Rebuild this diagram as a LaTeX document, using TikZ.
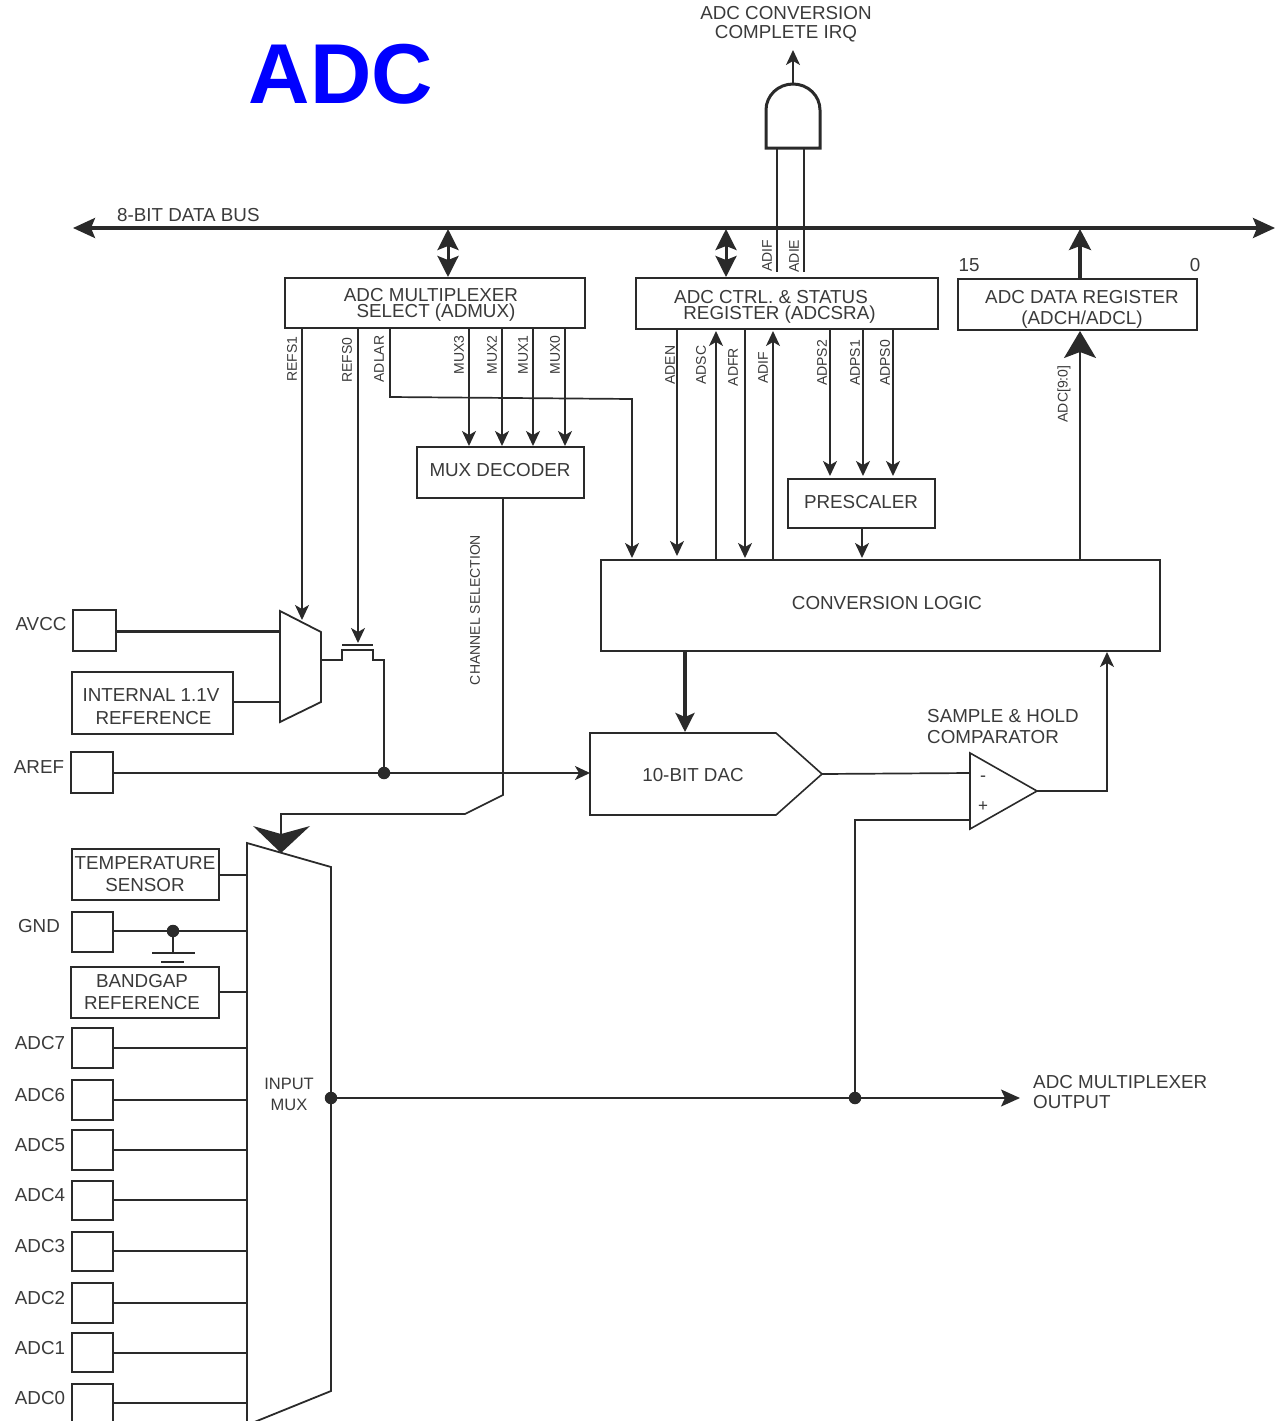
\documentclass[tikz,border=0pt]{standalone}
\usepackage{fontspec}
\setmainfont{Liberation Sans}
\usetikzlibrary{arrows.meta}
\definecolor{ink}{HTML}{2A2A2A}
\definecolor{txt}{HTML}{3A3A3A}
\tikzset{
  ln/.style={draw=ink,line width=1.7pt,line join=miter},
  heavy/.style={draw=ink,line width=3.2pt},
  boxs/.style={draw=ink,line width=1.6pt,inner sep=0pt,outer sep=0pt,fill=white},
  tip/.style={-{Stealth[length=15pt,width=14pt,inset=4pt]}},
  bigtip/.style={-{Stealth[length=27pt,width=32pt,inset=6pt]}},
  dbl/.style={{Stealth[length=21pt,width=21pt,inset=4pt]}-{Stealth[length=21pt,width=21pt,inset=4pt]}},
  lab/.style={text=txt,inner sep=0pt,align=center,font=\fontsize{18.8}{21}\selectfont},
  vlab/.style={text=txt,inner sep=0pt,rotate=90,font=\fontsize{14}{16}\selectfont},
  dot/.style={circle,fill=ink,inner sep=0pt,minimum size=12.5pt}
}
\newcommand\bx[5]{\node[boxs,minimum width={#4-#2},minimum height={#5-#3}] (#1) at ({(#2+#4)/2},{(#3+#5)/2}) {};}
\begin{document}
\begin{tikzpicture}[x=1pt,y=-1pt]
\useasboundingbox (0,0) rectangle (1277,1421);
\clip (0,0) rectangle (1277,1421);
% title
\node[text=blue,inner sep=0pt,font=\fontsize{85}{85}\selectfont\bfseries] (title) at (341,74) {ADC};
\node[lab] (irq) at (786,24) {ADC CONVERSION\\[-2.5pt]COMPLETE IRQ};
% data bus
\coordinate (busL) at (73,228);
\coordinate (busR) at (1275,228);
\draw[heavy,{Stealth[length=22pt,width=20pt,inset=4pt]}-{Stealth[length=22pt,width=20pt,inset=4pt]}] (busL) -- (busR);
\node[lab,anchor=west] (buslab) at (117,215) {8-BIT DATA BUS};
% registers
\bx{admux}{285}{278}{585}{328}
\bx{adcsra}{636}{278}{938}{329}
\bx{adcdata}{958}{279}{1197}{330}
\node[lab] at (431,305) {ADC MULTIPLEXER\\[-5pt]\hspace*{10pt}SELECT (ADMUX)};
\node[lab] at (771,307) {ADC CTRL. \& STATUS\\[-5pt]\hspace*{17pt}REGISTER (ADCSRA)};
\node[lab] at (1082,309) {ADC DATA REGISTER\\[0pt](ADCH/ADCL)};
\node[lab] (n15) at (969,265) {15};
\node[lab] (n0) at (1195,265) {0};
\draw[ln,dbl,line width=3pt] (448,229) -- (448,277);
\draw[ln,dbl,line width=3pt] (726,229) -- (726,277);
\draw[heavy,-{Stealth[length=21pt,width=22pt,inset=4pt]}] (1080,278) -- (1080,229);
% AND gate
\draw[ln,line width=3pt] (766,148) -- (766,110) arc[start angle=180,end angle=0,x radius=27,y radius=-26] -- (820,148) -- cycle;
\coordinate (andTop) at (793,84);
\coordinate (irqIn) at (793,50);
\draw[ln,tip] (andTop) -- (irqIn);
\draw[ln] (777,148) -- (777,272);
\draw[ln] (804,148) -- (804,272);
\node[vlab] at (767,256) {ADIF};
\node[vlab] at (794,256) {ADIE};
% MUX decoder
\bx{dec}{417}{447}{584}{498}
\node[lab] at (500,470) {MUX DECODER};
\foreach \x/\t in {469/MUX3,502/MUX2,533/MUX1,565/MUX0}{
  \draw[ln,tip] (\x,329) -- (\x,446);
  \node[vlab] at ({\x-10},355) {\t};
}
\node[vlab] at (292,359) {REFS1};
\node[vlab] at (347,360) {REFS0};
\node[vlab] at (379,359) {ADLAR};
% conversion logic
\bx{conv}{601}{560}{1160}{651}
\node[lab] at (887,603) {CONVERSION LOGIC};
\bx{pre}{788}{479}{935}{528}
\node[lab] at (861,502) {PRESCALER};
\draw[ln,tip] (pre.south -| 862,0) -- (862,558);
\draw[ln,tip] (390,329) -- (390,397) -- (632,399) -- (632,558);
\draw[ln,tip] (677,329) -- (677,556);
\draw[ln,tip] (716,559) -- (716,331);
\draw[ln,tip] (745,329) -- (745,558);
\draw[ln,tip] (773,559) -- (773,331);
\foreach \x/\t in {830/ADPS2,863/ADPS1,893/ADPS0}{
  \draw[ln,tip] (\x,328) -- (\x,476);
  \node[vlab] at ({\x-8},363) {\t};
}
\node[vlab] at (670,365) {ADEN};
\node[vlab] at (701,365) {ADSC};
\node[vlab] at (733,367) {ADFR};
\node[vlab] at (763,368) {ADIF};
\node[vlab] at (1064,394) {ADC[9:0]};
\draw[ln,bigtip] (1080,560) -- (1080,331);
% reference mux
\draw[boxs,line width=1.8pt] (280,611) -- (321,632) -- (321,702) -- (280,722) -- cycle;
\coordinate (muxA) at (280,631);
\coordinate (muxB) at (280,702);
\bx{avcc}{73}{610}{116}{651}
\bx{int}{72}{672}{233}{734}
\bx{aref}{71}{752}{113}{793}
\node[lab] at (41,624) {AVCC};
\node[lab] at (151,707) {INTERNAL 1.1V\\[2pt]\hspace*{5pt}REFERENCE};
\node[lab] at (39,767) {AREF};
\draw[ln,line width=3pt] (avcc.east |- muxA) -- (muxA);
\draw[ln] (int.east |- muxB) -- (muxB);
\draw[ln,tip] (302,329) -- (302,620);
\draw[ln,tip] (358,329) -- (358,643);
\draw[ln] (342,645) -- (373,645);
\node[dot] (refdot) at (384,773) {};
\draw[ln] (321,660) -- (342,660) -- (342,650) -- (373,650) -- (373,660) -- (384,660) -- (refdot);
% DAC
\node[boxs,fill=none,minimum size=0pt] (dacpt) at (590,773) {};
\draw[boxs,line width=1.6pt] (590,733) -- (776,733) -- (822,774) -- (776,815) -- (590,815) -- cycle;
\coordinate (dactip) at (822,774);
\node[lab] at (693,775) {10-BIT DAC};
\draw[ln,tip] (aref.east |- refdot) -- (dacpt);
\draw[heavy,-{Stealth[length=19pt,width=19pt,inset=4pt]}] (685,650) -- (685,732);
% comparator
\draw[boxs,line width=1.6pt] (970,753) -- (1037,791) -- (970,829) -- cycle;
\coordinate (cmpout) at (1037,791);
\node[lab,anchor=west,align=left] at (927,727) {SAMPLE \& HOLD\\[0pt]COMPARATOR};
\node[text=txt,inner sep=0pt,font=\fontsize{18}{18}\selectfont] at (983,779) {-};
\node[text=txt,inner sep=0pt,font=\fontsize{17}{17}\selectfont] at (983,807) {+};
\draw[ln] (dactip) -- (970,773);
\draw[ln,tip] (cmpout) -- (1107,791) -- (1107,652);
% input mux
\bx{temp}{72}{849}{219}{900}
\bx{gnd}{72}{912}{113}{952}
\bx{band}{71}{967}{219}{1018}
\node[lab] at (145,874) {TEMPERATURE\\[1pt]SENSOR};
\node[lab] at (142,992) {BANDGAP\\[1pt]REFERENCE};
\node[lab] at (39,926) {GND};
\draw[boxs,line width=1.8pt] (247,843) -- (331,867) -- (331,1391) -- (247,1425) -- cycle;
\node[lab,font=\fontsize{16.5}{21}\selectfont] at (289,1094) {INPUT\\[0pt]MUX};
\draw[ln] (temp.east |- 0,875) -- (247,875);
\draw[ln] (band.east |- 0,992) -- (247,992);
\draw[ln] (gnd.east |- 0,931) -- (247,931);
\node[dot] (gdot) at (173,931) {};
\draw[ln] (gdot) -- (173,953);
\draw[ln] (152,953) -- (195,953);
\draw[ln] (161,962) -- (184,962);
\foreach \n/\a/\b/\m/\t in {a7/1028/1068/1048/ADC7,a6/1080/1120/1100/ADC6,a5/1130/1170/1150/ADC5,a4/1181/1220/1200/ADC4,a3/1232/1271/1251/ADC3,a2/1283/1323/1303/ADC2,a1/1333/1372/1353/ADC1,a0/1384/1426/1403/ADC0}{
  \bx{\n}{72}{\a}{113}{\b}
  \draw[ln] (\n.east |- 0,\m) -- (247,\m);
  \node[lab] at (40,{\m-5}) {\t};
}
% channel selection
\node[vlab] at (475,610) {CHANNEL SELECTION};
\draw[ln] (dec.south -| 503,0) -- (503,795) -- (465,814) -- (281,814) -- (281,835);
\draw[draw=none,fill=ink] (253,826) -- (281,834) -- (310,826) -- (281,853) -- cycle;
% main output
\node[dot] (odot) at (331,1098) {};
\node[dot] (sdot) at (855,1098) {};
\coordinate (outend) at (1020,1098);
\draw[ln,-{Stealth[length=19pt,width=17pt,inset=4pt]}] (odot) -- (outend);
\draw[ln] (sdot) -- (855,820) -- (970,820);
\node[lab,anchor=west,align=left] at (1033,1092) {ADC MULTIPLEXER\\[-1pt]OUTPUT};
\end{tikzpicture}
\end{document}
